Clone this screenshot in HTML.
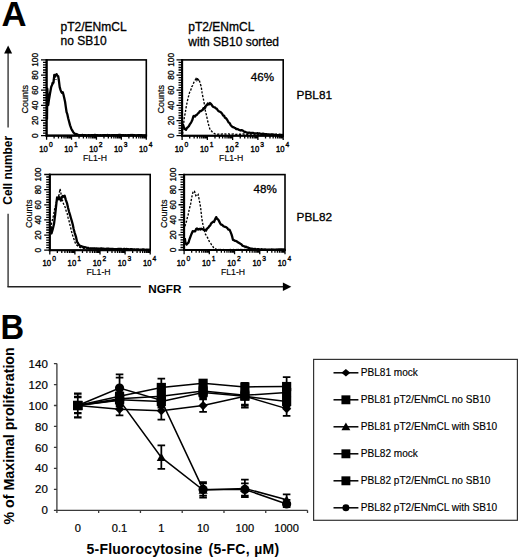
<!DOCTYPE html>
<html><head><meta charset="utf-8"><style>
html,body{margin:0;padding:0;background:#fff;}
svg{display:block;}
text{font-family:"Liberation Sans", sans-serif;fill:#000;}
</style></head><body>
<svg width="520" height="560" viewBox="0 0 520 560">
<rect width="520" height="560" fill="#fff"/>
<rect x="46.6" y="59.9" width="99.7" height="75.7" fill="none" stroke="#000" stroke-width="1.6"/>
<line x1="46.6" y1="59.1" x2="46.6" y2="136.6" stroke="#000" stroke-width="2.1"/>
<line x1="45.6" y1="135.6" x2="147.1" y2="135.6" stroke="#000" stroke-width="2.1"/>
<path d="M46.6 135.6h-5.6 M46.6 133.08h-3.6 M46.6 130.55h-3.6 M46.6 128.03h-3.6 M46.6 125.51h-3.6 M46.6 122.98h-3.6 M46.6 120.46h-5.6 M46.6 117.94h-3.6 M46.6 115.41h-3.6 M46.6 112.89h-3.6 M46.6 110.37h-3.6 M46.6 107.84h-3.6 M46.6 105.32h-5.6 M46.6 102.8h-3.6 M46.6 100.27h-3.6 M46.6 97.75h-3.6 M46.6 95.23h-3.6 M46.6 92.7h-3.6 M46.6 90.18h-5.6 M46.6 87.66h-3.6 M46.6 85.13h-3.6 M46.6 82.61h-3.6 M46.6 80.09h-3.6 M46.6 77.56h-3.6 M46.6 75.04h-5.6 M46.6 72.52h-3.6 M46.6 69.99h-3.6 M46.6 67.47h-3.6 M46.6 64.95h-3.6 M46.6 62.42h-3.6 M46.6 59.9h-5.6 M46.6 135.6v4.2 M54.1 135.6v2.8 M58.49 135.6v2.8 M61.61 135.6v2.8 M64.02 135.6v2.8 M66 135.6v2.8 M67.66 135.6v2.8 M69.11 135.6v2.8 M70.38 135.6v2.8 M71.53 135.6v4.2 M79.03 135.6v2.8 M83.42 135.6v2.8 M86.53 135.6v2.8 M88.95 135.6v2.8 M90.92 135.6v2.8 M92.59 135.6v2.8 M94.03 135.6v2.8 M95.31 135.6v2.8 M96.45 135.6v4.2 M103.95 135.6v2.8 M108.34 135.6v2.8 M111.46 135.6v2.8 M113.87 135.6v2.8 M115.85 135.6v2.8 M117.51 135.6v2.8 M118.96 135.6v2.8 M120.23 135.6v2.8 M121.38 135.6v4.2 M128.88 135.6v2.8 M133.27 135.6v2.8 M136.38 135.6v2.8 M138.8 135.6v2.8 M140.77 135.6v2.8 M142.44 135.6v2.8 M143.88 135.6v2.8 M145.16 135.6v2.8 M146.3 135.6v4.2" stroke="#000" stroke-width="1.3" fill="none"/>
<text transform="translate(37.7,135.6) rotate(-90) scale(0.9,1)" text-anchor="middle" font-size="9.3" stroke="#000" stroke-width="0.3">0</text>
<text transform="translate(37.7,120.46) rotate(-90) scale(0.9,1)" text-anchor="middle" font-size="9.3" stroke="#000" stroke-width="0.3">20</text>
<text transform="translate(37.7,105.32) rotate(-90) scale(0.9,1)" text-anchor="middle" font-size="9.3" stroke="#000" stroke-width="0.3">40</text>
<text transform="translate(37.7,90.18) rotate(-90) scale(0.9,1)" text-anchor="middle" font-size="9.3" stroke="#000" stroke-width="0.3">60</text>
<text transform="translate(37.7,75.04) rotate(-90) scale(0.9,1)" text-anchor="middle" font-size="9.3" stroke="#000" stroke-width="0.3">80</text>
<text transform="translate(37.7,59.9) rotate(-90) scale(0.9,1)" text-anchor="middle" font-size="9.3" stroke="#000" stroke-width="0.3">100</text>
<text transform="translate(28.3,99.25) rotate(-90)" text-anchor="middle" font-size="9" stroke="#000" stroke-width="0.2">Counts</text>
<text transform="translate(46,151.5) scale(0.86,1)" text-anchor="middle" font-size="9" stroke="#000" stroke-width="0.4">10<tspan font-size="7.8" dy="-5" dx="1.3">0</tspan></text>
<text transform="translate(70.93,151.5) scale(0.86,1)" text-anchor="middle" font-size="9" stroke="#000" stroke-width="0.4">10<tspan font-size="7.8" dy="-5" dx="1.3">1</tspan></text>
<text transform="translate(95.85,151.5) scale(0.86,1)" text-anchor="middle" font-size="9" stroke="#000" stroke-width="0.4">10<tspan font-size="7.8" dy="-5" dx="1.3">2</tspan></text>
<text transform="translate(120.78,151.5) scale(0.86,1)" text-anchor="middle" font-size="9" stroke="#000" stroke-width="0.4">10<tspan font-size="7.8" dy="-5" dx="1.3">3</tspan></text>
<text transform="translate(145.7,151.5) scale(0.86,1)" text-anchor="middle" font-size="9" stroke="#000" stroke-width="0.4">10<tspan font-size="7.8" dy="-5" dx="1.3">4</tspan></text>
<text x="94.95" y="160.5" text-anchor="middle" font-size="8.7" stroke="#000" stroke-width="0.15">FL1-H</text>
<polyline points="53,84.36 54,76.11 55,74.54 56,80" fill="none" stroke="#000" stroke-width="1.35" stroke-dasharray="2.2,1.5"/>
<polyline points="47,119.43 47.3,88.7 48.2,105.06 48.9,100.04 50,93.44 51.2,87.02 51.97,85.15 52.73,82.61 53.5,82.55 54.3,74.9 55.07,75.73 55.83,74.95 56.6,74.17 57.4,75.86 58.2,76.28 58.9,80.53 59.7,87.15 60.5,89.93 61.27,91.83 62.03,92.91 62.8,92.21 63.55,94.98 64.3,98.17 65.07,101.78 65.83,107.17 66.6,112.23 67.4,114.46 68.2,118.2 69,121.33 70.1,125.37 71.2,128.41 72.23,130.45 73.27,132.16 74.3,133.31 75.22,134 76.14,133.96 77.06,134.33 77.98,134.92 78.9,135.25 79.79,135.04 80.69,135.32 81.58,135.07 82.48,135.01 83.37,135.11 84.27,135.44 85.16,135.18 86.06,135.41 86.95,135.41 87.85,135.33 88.74,135.05 89.64,135.32 90.53,135.27 91.43,135.1 92.32,135.16 93.21,135.16 94.11,135.18 95,134.96 95.9,135.08 96.79,135.11 97.69,135.19 98.58,135.3 99.48,135.29 100.37,135.16 101.27,135.36 102.16,135.31 103.06,135.08 103.95,135.21 104.85,135.23 105.74,135.14 106.63,135.42 107.53,134.96 108.42,135.42 109.32,135.13 110.21,135.3 111.11,135.4 112,135.15 112.9,135.11 113.79,135.21 114.69,135.06 115.58,135.36 116.48,135.04 117.37,135.12 118.27,135.22 119.16,134.95 120.05,134.97 120.95,135.12 121.84,135.19 122.74,135.08 123.63,135.2 124.53,135.35 125.42,135.23 126.32,135.38 127.21,135.36 128.11,135.13 129,135.09 129.9,135.29 130.79,135 131.69,135.19 132.58,135.01 133.47,135.1 134.37,135.17 135.26,135.37 136.16,135.37 137.05,135.27 137.95,135.16 138.84,135.12 139.74,135.15 140.63,135.24 141.53,135.05 142.42,135.27 143.32,135.43 144.21,135.33 145.11,135.45 146,135.2" fill="none" stroke="#000" stroke-width="2.3" stroke-linejoin="round"/>
<rect x="182.1" y="59.9" width="101.1" height="75.8" fill="none" stroke="#000" stroke-width="1.6"/>
<line x1="182.1" y1="59.1" x2="182.1" y2="136.7" stroke="#000" stroke-width="2.1"/>
<line x1="181.1" y1="135.7" x2="284" y2="135.7" stroke="#000" stroke-width="2.1"/>
<path d="M182.1 135.7h-5.6 M182.1 133.17h-3.6 M182.1 130.65h-3.6 M182.1 128.12h-3.6 M182.1 125.59h-3.6 M182.1 123.07h-3.6 M182.1 120.54h-5.6 M182.1 118.01h-3.6 M182.1 115.49h-3.6 M182.1 112.96h-3.6 M182.1 110.43h-3.6 M182.1 107.91h-3.6 M182.1 105.38h-5.6 M182.1 102.85h-3.6 M182.1 100.33h-3.6 M182.1 97.8h-3.6 M182.1 95.27h-3.6 M182.1 92.75h-3.6 M182.1 90.22h-5.6 M182.1 87.69h-3.6 M182.1 85.17h-3.6 M182.1 82.64h-3.6 M182.1 80.11h-3.6 M182.1 77.59h-3.6 M182.1 75.06h-5.6 M182.1 72.53h-3.6 M182.1 70.01h-3.6 M182.1 67.48h-3.6 M182.1 64.95h-3.6 M182.1 62.43h-3.6 M182.1 59.9h-5.6 M182.1 135.7v4.2 M189.71 135.7v2.8 M194.16 135.7v2.8 M197.32 135.7v2.8 M199.77 135.7v2.8 M201.77 135.7v2.8 M203.46 135.7v2.8 M204.93 135.7v2.8 M206.22 135.7v2.8 M207.38 135.7v4.2 M214.98 135.7v2.8 M219.43 135.7v2.8 M222.59 135.7v2.8 M225.04 135.7v2.8 M227.04 135.7v2.8 M228.73 135.7v2.8 M230.2 135.7v2.8 M231.49 135.7v2.8 M232.65 135.7v4.2 M240.26 135.7v2.8 M244.71 135.7v2.8 M247.87 135.7v2.8 M250.32 135.7v2.8 M252.32 135.7v2.8 M254.01 135.7v2.8 M255.48 135.7v2.8 M256.77 135.7v2.8 M257.92 135.7v4.2 M265.53 135.7v2.8 M269.98 135.7v2.8 M273.14 135.7v2.8 M275.59 135.7v2.8 M277.59 135.7v2.8 M279.28 135.7v2.8 M280.75 135.7v2.8 M282.04 135.7v2.8 M283.2 135.7v4.2" stroke="#000" stroke-width="1.3" fill="none"/>
<text transform="translate(173.8,135.7) rotate(-90) scale(0.9,1)" text-anchor="middle" font-size="9.3" stroke="#000" stroke-width="0.3">0</text>
<text transform="translate(173.8,120.54) rotate(-90) scale(0.9,1)" text-anchor="middle" font-size="9.3" stroke="#000" stroke-width="0.3">20</text>
<text transform="translate(173.8,105.38) rotate(-90) scale(0.9,1)" text-anchor="middle" font-size="9.3" stroke="#000" stroke-width="0.3">40</text>
<text transform="translate(173.8,90.22) rotate(-90) scale(0.9,1)" text-anchor="middle" font-size="9.3" stroke="#000" stroke-width="0.3">60</text>
<text transform="translate(173.8,75.06) rotate(-90) scale(0.9,1)" text-anchor="middle" font-size="9.3" stroke="#000" stroke-width="0.3">80</text>
<text transform="translate(173.8,59.9) rotate(-90) scale(0.9,1)" text-anchor="middle" font-size="9.3" stroke="#000" stroke-width="0.3">100</text>
<text transform="translate(164.2,99.3) rotate(-90)" text-anchor="middle" font-size="9" stroke="#000" stroke-width="0.2">Counts</text>
<text transform="translate(181.5,151.6) scale(0.86,1)" text-anchor="middle" font-size="9" stroke="#000" stroke-width="0.4">10<tspan font-size="7.8" dy="-5" dx="1.3">0</tspan></text>
<text transform="translate(206.78,151.6) scale(0.86,1)" text-anchor="middle" font-size="9" stroke="#000" stroke-width="0.4">10<tspan font-size="7.8" dy="-5" dx="1.3">1</tspan></text>
<text transform="translate(232.05,151.6) scale(0.86,1)" text-anchor="middle" font-size="9" stroke="#000" stroke-width="0.4">10<tspan font-size="7.8" dy="-5" dx="1.3">2</tspan></text>
<text transform="translate(257.32,151.6) scale(0.86,1)" text-anchor="middle" font-size="9" stroke="#000" stroke-width="0.4">10<tspan font-size="7.8" dy="-5" dx="1.3">3</tspan></text>
<text transform="translate(282.6,151.6) scale(0.86,1)" text-anchor="middle" font-size="9" stroke="#000" stroke-width="0.4">10<tspan font-size="7.8" dy="-5" dx="1.3">4</tspan></text>
<text x="231.15" y="160.6" text-anchor="middle" font-size="8.7" stroke="#000" stroke-width="0.15">FL1-H</text>
<polyline points="182.6,133.97 183.5,124.97 184.3,117.37 185.2,113.32 186.1,107.51 187,102.97 188,98.27 189,94.57 190,91 190.85,89.97 191.7,86.74 192.55,85.65 193.4,83.45 194.27,81.37 195.13,80.15 196,78.64 196.75,80.11 197.5,77.73 198.25,80 199,79.2 200.3,83.87 201.15,86.27 202,92.14 202.77,96.32 203.53,99.63 204.3,103.91 205.5,111.51 206.27,114.43 207.03,117.95 207.8,121.53 208.9,125.93 210.2,130.1 210.95,130.65 211.7,131.18 212.45,132.2 213.2,132.76 214.13,133.34 215.07,133.78 216,134.15 216.91,134.02 217.81,134.22 218.72,134.09 219.62,133.89 220.53,134.26 221.43,134.2 222.34,133.97 223.24,134.16 224.15,133.89 225.05,134.02 225.96,134.18 226.86,134.17 227.77,133.86 228.68,133.9 229.58,134.2 230.49,133.93 231.39,133.95 232.3,134.11 233.2,134.02 234.11,134.37 235.01,134.37 235.92,134.34 236.82,134.28 237.73,134.11 238.64,134.02 239.54,134.23 240.45,134.23 241.35,134.31 242.26,134.35 243.16,133.99 244.07,134.03 244.97,134.07 245.88,134.33 246.78,134.31 247.69,134.26 248.59,134.25 249.5,134.43 250.41,134.01 251.31,134.04 252.22,134.42 253.12,134.12 254.03,134.04 254.93,134.33 255.84,134.18 256.74,134.55 257.65,134.08 258.55,134.16 259.46,134.28 260.36,134.38 261.27,134.12 262.18,134.4 263.08,134.13 263.99,134.5 264.89,134.5 265.8,134.26 266.7,134.35 267.61,134.4 268.51,134.48 269.42,134.26 270.32,134.24 271.23,134.52 272.14,134.49 273.04,134.32 273.95,134.43 274.85,134.66 275.76,134.64 276.66,134.25 277.57,134.3 278.47,134.38 279.38,134.28 280.28,134.29 281.19,134.3 282.09,134.48 283,134.5" fill="none" stroke="#000" stroke-width="1.35" stroke-dasharray="2.2,1.5"/>
<polyline points="182.6,123.76 183.3,125.59 184,127.63 185,129.06 186,129.77 187,127.9 188,127.07 189,125.89 189.82,124.2 190.65,123.28 191.48,121.75 192.3,120.07 193.4,116.3 194.28,115.81 195.15,116.53 196.03,115.07 196.9,114.93 197.95,113.41 199,112.64 199.9,111.09 200.8,111.22 201.7,110.32 202.6,110.11 203.45,108.12 204.3,108.48 205.15,107.89 206,105.62 206.9,105.17 207.8,103.52 208.9,104.52 210,103.06 210.96,103.86 211.92,105.24 212.88,106.61 213.84,107.05 214.8,107.36 215.72,108.31 216.64,108.56 217.56,109.98 218.48,111.11 219.4,111.5 220.32,111.95 221.24,112.69 222.16,113.81 223.08,115.55 224,115.56 224.92,117.73 225.84,118.12 226.76,119.16 227.68,120.8 228.6,122.52 229.57,122.96 230.55,124.87 231.53,126.1 232.5,127 233.45,127.09 234.4,127.75 235.35,128.17 236.3,129.04 237.19,128.98 238.07,129.24 238.96,129.93 239.84,130.22 240.73,130.48 241.61,130.19 242.5,130.34 243.45,131.06 244.4,131.94 245.35,131.92 246.3,132.29 247.2,132.57 248.1,132.85 249,132.6 249.9,132.69 250.8,133.07 251.7,132.95 252.57,132.96 253.44,132.94 254.31,133.3 255.19,133.47 256.06,133.31 256.93,133.4 257.8,133.17 258.66,133.72 259.51,133.34 260.37,133.76 261.22,133.99 262.08,133.83 262.93,133.72 263.79,133.92 264.64,134.3 265.5,134.23 266.42,134.14 267.34,134.42 268.26,134.51 269.18,134.61 270.11,134.54 271.03,134.43 271.95,134.45 272.87,134.72 273.79,134.5 274.71,134.95 275.63,134.59 276.55,135.07 277.47,135.04 278.39,135.19 279.32,135.25 280.24,135.32 281.16,134.97 282.08,135.14 283,135.3" fill="none" stroke="#000" stroke-width="2.3" stroke-linejoin="round"/>
<text x="250.8" y="80.6" font-size="11.6" stroke="#000" stroke-width="0.3">46%</text>
<rect x="49.8" y="174.5" width="100.4" height="75.7" fill="none" stroke="#000" stroke-width="1.6"/>
<line x1="49.8" y1="173.7" x2="49.8" y2="251.2" stroke="#000" stroke-width="2.1"/>
<line x1="48.8" y1="250.2" x2="151" y2="250.2" stroke="#000" stroke-width="2.1"/>
<path d="M49.8 250.2h-5.6 M49.8 247.68h-3.6 M49.8 245.15h-3.6 M49.8 242.63h-3.6 M49.8 240.11h-3.6 M49.8 237.58h-3.6 M49.8 235.06h-5.6 M49.8 232.54h-3.6 M49.8 230.01h-3.6 M49.8 227.49h-3.6 M49.8 224.97h-3.6 M49.8 222.44h-3.6 M49.8 219.92h-5.6 M49.8 217.4h-3.6 M49.8 214.87h-3.6 M49.8 212.35h-3.6 M49.8 209.83h-3.6 M49.8 207.3h-3.6 M49.8 204.78h-5.6 M49.8 202.26h-3.6 M49.8 199.73h-3.6 M49.8 197.21h-3.6 M49.8 194.69h-3.6 M49.8 192.16h-3.6 M49.8 189.64h-5.6 M49.8 187.12h-3.6 M49.8 184.59h-3.6 M49.8 182.07h-3.6 M49.8 179.55h-3.6 M49.8 177.02h-3.6 M49.8 174.5h-5.6 M49.8 250.2v4.2 M57.36 250.2v2.8 M61.78 250.2v2.8 M64.91 250.2v2.8 M67.34 250.2v2.8 M69.33 250.2v2.8 M71.01 250.2v2.8 M72.47 250.2v2.8 M73.75 250.2v2.8 M74.9 250.2v4.2 M82.46 250.2v2.8 M86.88 250.2v2.8 M90.01 250.2v2.8 M92.44 250.2v2.8 M94.43 250.2v2.8 M96.11 250.2v2.8 M97.57 250.2v2.8 M98.85 250.2v2.8 M100 250.2v4.2 M107.56 250.2v2.8 M111.98 250.2v2.8 M115.11 250.2v2.8 M117.54 250.2v2.8 M119.53 250.2v2.8 M121.21 250.2v2.8 M122.67 250.2v2.8 M123.95 250.2v2.8 M125.1 250.2v4.2 M132.66 250.2v2.8 M137.08 250.2v2.8 M140.21 250.2v2.8 M142.64 250.2v2.8 M144.63 250.2v2.8 M146.31 250.2v2.8 M147.77 250.2v2.8 M149.05 250.2v2.8 M150.2 250.2v4.2" stroke="#000" stroke-width="1.3" fill="none"/>
<text transform="translate(40.9,250.2) rotate(-90) scale(0.9,1)" text-anchor="middle" font-size="9.3" stroke="#000" stroke-width="0.3">0</text>
<text transform="translate(40.9,235.06) rotate(-90) scale(0.9,1)" text-anchor="middle" font-size="9.3" stroke="#000" stroke-width="0.3">20</text>
<text transform="translate(40.9,219.92) rotate(-90) scale(0.9,1)" text-anchor="middle" font-size="9.3" stroke="#000" stroke-width="0.3">40</text>
<text transform="translate(40.9,204.78) rotate(-90) scale(0.9,1)" text-anchor="middle" font-size="9.3" stroke="#000" stroke-width="0.3">60</text>
<text transform="translate(40.9,189.64) rotate(-90) scale(0.9,1)" text-anchor="middle" font-size="9.3" stroke="#000" stroke-width="0.3">80</text>
<text transform="translate(40.9,174.5) rotate(-90) scale(0.9,1)" text-anchor="middle" font-size="9.3" stroke="#000" stroke-width="0.3">100</text>
<text transform="translate(31.5,213.85) rotate(-90)" text-anchor="middle" font-size="9" stroke="#000" stroke-width="0.2">Counts</text>
<text transform="translate(49.2,266.1) scale(0.86,1)" text-anchor="middle" font-size="9" stroke="#000" stroke-width="0.4">10<tspan font-size="7.8" dy="-5" dx="1.3">0</tspan></text>
<text transform="translate(74.3,266.1) scale(0.86,1)" text-anchor="middle" font-size="9" stroke="#000" stroke-width="0.4">10<tspan font-size="7.8" dy="-5" dx="1.3">1</tspan></text>
<text transform="translate(99.4,266.1) scale(0.86,1)" text-anchor="middle" font-size="9" stroke="#000" stroke-width="0.4">10<tspan font-size="7.8" dy="-5" dx="1.3">2</tspan></text>
<text transform="translate(124.5,266.1) scale(0.86,1)" text-anchor="middle" font-size="9" stroke="#000" stroke-width="0.4">10<tspan font-size="7.8" dy="-5" dx="1.3">3</tspan></text>
<text transform="translate(149.6,266.1) scale(0.86,1)" text-anchor="middle" font-size="9" stroke="#000" stroke-width="0.4">10<tspan font-size="7.8" dy="-5" dx="1.3">4</tspan></text>
<text x="98.5" y="275.1" text-anchor="middle" font-size="8.7" stroke="#000" stroke-width="0.15">FL1-H</text>
<polyline points="50.8,228.44 51.5,223.67 52.45,219.58 53.4,215.98 54.33,210.46 55.25,206.7 56.17,202.81 57.1,199.93 58.05,196.97 59,195.07 60,188.89 60.9,192.39 61.5,199.97 62.45,200.26 63.4,203.6 64.33,205.55 65.25,207.4 66.17,211.11 67.1,212.8 68.05,217.7 69,220.8 69.95,224.8 70.9,228.7 72.1,233.78 73.05,236.78 74,239.24 74.95,242.07 75.9,244.63 76.93,245.24 77.97,246.12 79,246.81 79.83,247.45 80.67,247.5 81.5,247.75 82.33,248.06 83.17,248.25 84,248.43 84.9,248.3 85.81,248.53 86.71,248.39 87.62,248.51 88.52,248.57 89.42,248.37 90.33,248.41 91.23,248.56 92.14,248.55 93.04,248.89 93.95,248.64 94.85,248.48 95.75,248.93 96.66,248.52 97.56,248.97 98.47,248.94 99.37,248.79 100.27,248.71 101.18,248.84 102.08,248.94 102.99,248.64 103.89,249.1 104.79,248.75 105.7,248.73 106.6,249.12 107.51,248.94 108.41,248.91 109.32,249.11 110.22,249.19 111.12,249.02 112.03,248.88 112.93,248.9 113.84,249.29 114.74,249.3 115.64,249.03 116.55,249.13 117.45,249.27 118.36,249.06 119.26,249.16 120.16,249.17 121.07,249.1 121.97,249.4 122.88,249.36 123.78,249.2 124.68,249.45 125.59,249.21 126.49,249.35 127.4,249.59 128.3,249.24 129.21,249.53 130.11,249.44 131.01,249.25 131.92,249.58 132.82,249.29 133.73,249.44 134.63,249.43 135.53,249.41 136.44,249.55 137.34,249.63 138.25,249.41 139.15,249.43 140.05,249.45 140.96,249.56 141.86,249.88 142.77,249.48 143.67,249.58 144.58,249.93 145.48,249.89 146.38,249.59 147.29,249.77 148.19,249.6 149.1,249.73 150,249.8" fill="none" stroke="#000" stroke-width="1.35" stroke-dasharray="2.2,1.5"/>
<polyline points="50.6,226.51 51.5,233.47 52.75,229.15 54,224.06 55.25,213.94 56.5,202.29 57.1,197.48 58.05,199.36 59,196.96 59.95,198.94 60.9,200.56 61.83,197.39 62.75,195.91 63.67,196.74 64.6,195.62 65.9,200.09 67.1,203.41 68.05,207.73 69,211.6 69.95,214.61 70.9,217.96 71.83,221.16 72.75,224.53 73.67,228.91 74.6,232.58 75.9,236.55 77.1,242.1 77.93,243.1 78.77,244.67 79.6,245.5 80.55,246.25 81.5,246.12 82.45,246.8 83.4,246.87 84.33,247.31 85.27,247.21 86.2,247.54 87.13,247.86 88.07,247.86 89,248.29 89.91,248.5 90.83,248.39 91.74,248.47 92.65,248.38 93.57,248.45 94.48,248.28 95.39,248.58 96.3,248.37 97.22,248.55 98.13,248.51 99.04,248.66 99.96,248.59 100.87,248.52 101.78,248.46 102.7,248.55 103.61,248.65 104.52,248.91 105.43,248.93 106.35,248.76 107.26,248.71 108.17,248.61 109.09,248.71 110,248.78 110.91,248.9 111.82,248.83 112.73,248.82 113.64,249.11 114.55,249.06 115.45,249.17 116.36,249.04 117.27,249.18 118.18,248.96 119.09,248.98 120,248.8 120.91,248.87 121.82,249.18 122.73,249.27 123.64,248.99 124.55,248.92 125.45,249.26 126.36,248.99 127.27,249.21 128.18,249.13 129.09,249.3 130,249.55 130.91,249.09 131.82,249.15 132.73,249.34 133.64,249.58 134.55,249.45 135.45,249.56 136.36,249.39 137.27,249.47 138.18,249.44 139.09,249.62 140,249.79 140.91,249.65 141.82,249.69 142.73,249.39 143.64,249.48 144.55,249.67 145.45,249.88 146.36,249.66 147.27,249.6 148.18,249.95 149.09,249.62 150,249.8" fill="none" stroke="#000" stroke-width="2.3" stroke-linejoin="round"/>
<rect x="184.1" y="174.6" width="100.9" height="75.4" fill="none" stroke="#000" stroke-width="1.6"/>
<line x1="184.1" y1="173.8" x2="184.1" y2="251" stroke="#000" stroke-width="2.1"/>
<line x1="183.1" y1="250" x2="285.8" y2="250" stroke="#000" stroke-width="2.1"/>
<path d="M184.1 250h-5.6 M184.1 247.49h-3.6 M184.1 244.97h-3.6 M184.1 242.46h-3.6 M184.1 239.95h-3.6 M184.1 237.43h-3.6 M184.1 234.92h-5.6 M184.1 232.41h-3.6 M184.1 229.89h-3.6 M184.1 227.38h-3.6 M184.1 224.87h-3.6 M184.1 222.35h-3.6 M184.1 219.84h-5.6 M184.1 217.33h-3.6 M184.1 214.81h-3.6 M184.1 212.3h-3.6 M184.1 209.79h-3.6 M184.1 207.27h-3.6 M184.1 204.76h-5.6 M184.1 202.25h-3.6 M184.1 199.73h-3.6 M184.1 197.22h-3.6 M184.1 194.71h-3.6 M184.1 192.19h-3.6 M184.1 189.68h-5.6 M184.1 187.17h-3.6 M184.1 184.65h-3.6 M184.1 182.14h-3.6 M184.1 179.63h-3.6 M184.1 177.11h-3.6 M184.1 174.6h-5.6 M184.1 250v4.2 M191.69 250v2.8 M196.14 250v2.8 M199.29 250v2.8 M201.73 250v2.8 M203.73 250v2.8 M205.42 250v2.8 M206.88 250v2.8 M208.17 250v2.8 M209.32 250v4.2 M216.92 250v2.8 M221.36 250v2.8 M224.51 250v2.8 M226.96 250v2.8 M228.95 250v2.8 M230.64 250v2.8 M232.11 250v2.8 M233.4 250v2.8 M234.55 250v4.2 M242.14 250v2.8 M246.59 250v2.8 M249.74 250v2.8 M252.18 250v2.8 M254.18 250v2.8 M255.87 250v2.8 M257.33 250v2.8 M258.62 250v2.8 M259.77 250v4.2 M267.37 250v2.8 M271.81 250v2.8 M274.96 250v2.8 M277.41 250v2.8 M279.4 250v2.8 M281.09 250v2.8 M282.56 250v2.8 M283.85 250v2.8 M285 250v4.2" stroke="#000" stroke-width="1.3" fill="none"/>
<text transform="translate(175.8,250) rotate(-90) scale(0.9,1)" text-anchor="middle" font-size="9.3" stroke="#000" stroke-width="0.3">0</text>
<text transform="translate(175.8,234.92) rotate(-90) scale(0.9,1)" text-anchor="middle" font-size="9.3" stroke="#000" stroke-width="0.3">20</text>
<text transform="translate(175.8,219.84) rotate(-90) scale(0.9,1)" text-anchor="middle" font-size="9.3" stroke="#000" stroke-width="0.3">40</text>
<text transform="translate(175.8,204.76) rotate(-90) scale(0.9,1)" text-anchor="middle" font-size="9.3" stroke="#000" stroke-width="0.3">60</text>
<text transform="translate(175.8,189.68) rotate(-90) scale(0.9,1)" text-anchor="middle" font-size="9.3" stroke="#000" stroke-width="0.3">80</text>
<text transform="translate(175.8,174.6) rotate(-90) scale(0.9,1)" text-anchor="middle" font-size="9.3" stroke="#000" stroke-width="0.3">100</text>
<text transform="translate(166.8,213.8) rotate(-90)" text-anchor="middle" font-size="9" stroke="#000" stroke-width="0.2">Counts</text>
<text transform="translate(183.5,265.9) scale(0.86,1)" text-anchor="middle" font-size="9" stroke="#000" stroke-width="0.4">10<tspan font-size="7.8" dy="-5" dx="1.3">0</tspan></text>
<text transform="translate(208.72,265.9) scale(0.86,1)" text-anchor="middle" font-size="9" stroke="#000" stroke-width="0.4">10<tspan font-size="7.8" dy="-5" dx="1.3">1</tspan></text>
<text transform="translate(233.95,265.9) scale(0.86,1)" text-anchor="middle" font-size="9" stroke="#000" stroke-width="0.4">10<tspan font-size="7.8" dy="-5" dx="1.3">2</tspan></text>
<text transform="translate(259.17,265.9) scale(0.86,1)" text-anchor="middle" font-size="9" stroke="#000" stroke-width="0.4">10<tspan font-size="7.8" dy="-5" dx="1.3">3</tspan></text>
<text transform="translate(284.4,265.9) scale(0.86,1)" text-anchor="middle" font-size="9" stroke="#000" stroke-width="0.4">10<tspan font-size="7.8" dy="-5" dx="1.3">4</tspan></text>
<text x="233.05" y="274.9" text-anchor="middle" font-size="8.7" stroke="#000" stroke-width="0.15">FL1-H</text>
<polyline points="184.8,226.18 185.7,223.94 186.6,220.77 187.43,217.23 188.27,214.24 189.1,210.19 189.9,206.75 190.7,203.64 191.5,198.63 192.4,194.33 193.3,191.04 194.5,191.3 195.8,195.62 196.6,195.06 197.4,195.91 198.2,194.69 199.4,200.82 200.6,207.4 201.8,218.45 203,224.96 203.95,228.79 204.9,233.13 205.7,234.71 206.5,235.69 207.3,237.18 208.1,238.77 208.9,240.6 209.7,242.49 210.62,243.26 211.55,244.83 212.47,245.73 213.4,247.4 214.3,247.61 215.2,248.55 216.1,249.15 217,249.57 217.89,249.55 218.79,249.35 219.68,249.73 220.58,249.45 221.47,249.75 222.37,249.81 223.26,249.55 224.16,249.84 225.05,249.69 225.95,249.74 226.84,249.64 227.74,249.58 228.63,249.61 229.53,249.68 230.42,249.4 231.32,249.82 232.21,249.46 233.11,249.44 234,249.58 234.89,249.64 235.79,249.44 236.68,249.4 237.58,249.72 238.47,249.36 239.37,249.69 240.26,249.44 241.16,249.75 242.05,249.51 242.95,249.79 243.84,249.54 244.74,249.4 245.63,249.54 246.53,249.38 247.42,249.66 248.32,249.76 249.21,249.5 250.11,249.45 251,249.67 251.89,249.83 252.79,249.79 253.68,249.66 254.58,249.5 255.47,249.8 256.37,249.7 257.26,249.85 258.16,249.56 259.05,249.39 259.95,249.77 260.84,249.74 261.74,249.39 262.63,249.66 263.53,249.35 264.42,249.7 265.32,249.81 266.21,249.53 267.11,249.56 268,249.77 268.89,249.47 269.79,249.75 270.68,249.59 271.58,249.46 272.47,249.78 273.37,249.42 274.26,249.81 275.16,249.73 276.05,249.4 276.95,249.43 277.84,249.6 278.74,249.66 279.63,249.52 280.53,249.67 281.42,249.54 282.32,249.6 283.21,249.78 284.11,249.49 285,249.6" fill="none" stroke="#000" stroke-width="1.35" stroke-dasharray="2.2,1.5"/>
<polyline points="184.8,238.1 185.5,243.04 186.6,244.5 187.55,243.44 188.5,242.64 189.4,239.55 190.3,237.08 191.5,233.95 192.7,231.21 193.53,231.37 194.37,231.25 195.2,231.28 196.1,229.06 197,228.51 197.9,229.65 198.8,229.1 199.6,228.89 200.4,229.5 201.2,228.61 202.03,229.12 202.87,229.23 203.7,229.88 204.5,229.68 205.3,229.94 206.1,230.64 206.9,228.88 207.7,227.94 208.5,227.48 209.33,225.99 210.17,225.61 211,223.62 212,222.71 213,221.68 214,222.01 215.1,219.29 216.2,217.1 217.2,218.94 218.2,219.55 219.2,221.37 220.23,223.45 221.27,224.64 222.3,224.97 223.28,226.12 224.25,226.57 225.22,226.82 226.2,227.36 227.2,227.93 228.2,229.5 229.2,229.54 229.97,230.56 230.73,232.43 231.5,234.41 232.25,236.93 233,239.97 233.97,240.2 234.95,240.92 235.93,240.92 236.9,241.51 237.88,242.21 238.85,242.93 239.83,243.29 240.8,244.1 241.57,244.53 242.33,245.58 243.1,245.89 244.07,246.22 245.05,246.78 246.03,246.68 247,247.39 247.9,247.49 248.8,248.08 249.7,248.19 250.6,248.73 251.5,248.61 252.38,248.75 253.26,248.99 254.14,249.13 255.01,248.89 255.89,249.13 256.77,249.34 257.65,249.04 258.53,249.16 259.41,249.45 260.29,249.53 261.16,249.23 262.04,249.33 262.92,249.6 263.8,249.55 264.68,249.51 265.57,249.52 266.45,249.81 267.33,249.59 268.22,249.7 269.1,249.67 269.98,249.7 270.87,249.62 271.75,249.45 272.63,249.69 273.52,249.69 274.4,249.59 275.28,249.65 276.17,249.79 277.05,249.45 277.93,249.79 278.82,249.44 279.7,249.74 280.58,249.36 281.47,249.44 282.35,249.38 283.23,249.72 284.12,249.45 285,249.6" fill="none" stroke="#000" stroke-width="2.3" stroke-linejoin="round"/>
<text x="253.5" y="193.2" font-size="11.6" stroke="#000" stroke-width="0.3">48%</text>
<text x="1.4" y="25.9" font-size="34.7" font-weight="bold">A</text>
<g stroke="#000" stroke-width="0.3">
<text x="60.6" y="31.2" font-size="12">pT2/ENmCL</text>
<text x="60.6" y="45.3" font-size="12">no SB10</text>
<text x="188.3" y="30.6" font-size="12">pT2/ENmCL</text>
<text x="188.3" y="45.9" font-size="12">with SB10 sorted</text>
</g>
<text x="296.6" y="99.2" font-size="11.8" stroke="#000" stroke-width="0.3">PBL81</text>
<text x="296.6" y="220.7" font-size="11.8" stroke="#000" stroke-width="0.3">PBL82</text>
<path d="M8.1 53 V127.5 M8.1 213.8 V286.7" stroke="#444" stroke-width="1.5" fill="none"/>
<path d="M7.4 286.75 H140.8 M189.2 286.75 H284" stroke="#222" stroke-width="1.5" fill="none"/>
<path d="M4.1 53.6 L8.1 45.6 L12.1 53.6 Z" fill="#000"/>
<path d="M282.9 282.5 L291.3 286.7 L282.9 290.9 Z" fill="#000"/>
<text transform="translate(12.3,170.3) rotate(-90)" text-anchor="middle" font-size="11.9" font-weight="bold">Cell number</text>
<text x="148.3" y="293.1" font-size="11.7" font-weight="bold">NGFR</text>
<text transform="translate(0.5,338.8) scale(0.94,1)" font-size="34.8" font-weight="bold">B</text>
<path d="M56.9 363.58 V510.3 H307.52 M56.9 510.3 h-3 M56.9 489.34 h-3 M56.9 468.38 h-3 M56.9 447.42 h-3 M56.9 426.46 h-3 M56.9 405.5 h-3 M56.9 384.54 h-3 M56.9 363.58 h-3 M56.9 510.3 v2.8 M98.67 510.3 v2.8 M140.44 510.3 v2.8 M182.21 510.3 v2.8 M223.98 510.3 v2.8 M265.75 510.3 v2.8 M307.52 510.3 v2.8" stroke="#3a3a3a" stroke-width="1.3" fill="none"/>
<text x="47.8" y="514.4" text-anchor="end" font-size="11.5" stroke="#000" stroke-width="0.2">0</text>
<text x="47.8" y="493.44" text-anchor="end" font-size="11.5" stroke="#000" stroke-width="0.2">20</text>
<text x="47.8" y="472.48" text-anchor="end" font-size="11.5" stroke="#000" stroke-width="0.2">40</text>
<text x="47.8" y="451.52" text-anchor="end" font-size="11.5" stroke="#000" stroke-width="0.2">60</text>
<text x="47.8" y="430.56" text-anchor="end" font-size="11.5" stroke="#000" stroke-width="0.2">80</text>
<text x="47.8" y="409.6" text-anchor="end" font-size="11.5" stroke="#000" stroke-width="0.2">100</text>
<text x="47.8" y="388.64" text-anchor="end" font-size="11.5" stroke="#000" stroke-width="0.2">120</text>
<text x="47.8" y="367.68" text-anchor="end" font-size="11.5" stroke="#000" stroke-width="0.2">140</text>
<text x="77.78" y="531.6" text-anchor="middle" font-size="11.1" stroke="#000" stroke-width="0.2">0</text>
<text x="119.56" y="531.6" text-anchor="middle" font-size="11.1" stroke="#000" stroke-width="0.2">0.1</text>
<text x="161.33" y="531.6" text-anchor="middle" font-size="11.1" stroke="#000" stroke-width="0.2">1</text>
<text x="203.1" y="531.6" text-anchor="middle" font-size="11.1" stroke="#000" stroke-width="0.2">10</text>
<text x="244.87" y="531.6" text-anchor="middle" font-size="11.1" stroke="#000" stroke-width="0.2">100</text>
<text x="286.63" y="531.6" text-anchor="middle" font-size="11.1" stroke="#000" stroke-width="0.2">1000</text>
<text x="86.6" y="554.4" font-size="14" font-weight="bold" letter-spacing="0.2">5-Fluorocytosine</text>
<text x="208.5" y="554.4" font-size="14" font-weight="bold" letter-spacing="0.3">(5-FC, µM)</text>
<text transform="translate(13.6,435.9) rotate(-90)" text-anchor="middle" font-size="14.25" font-weight="bold">% of Maximal proliferation</text>
<path d="M77.78 393.34 V417.55 M73.98 393.34 h7.6 M73.98 417.55 h7.6 M119.56 402.98 V415.35 M115.76 402.98 h7.6 M115.76 415.35 h7.6 M161.33 401.94 V419.54 M157.53 401.94 h7.6 M157.53 419.54 h7.6 M203.1 399.42 V411.79 M199.3 399.42 h7.6 M199.3 411.79 h7.6 M244.87 384.85 V407.7 M241.06 384.85 h7.6 M241.06 407.7 h7.6 M286.63 401.41 V415.88 M282.83 401.41 h7.6 M282.83 415.88 h7.6 M77.78 393.97 V417.03 M73.98 393.97 h7.6 M73.98 417.03 h7.6 M119.56 377.62 V404.56 M115.76 377.62 h7.6 M115.76 404.56 h7.6 M161.33 378.67 V396.28 M157.53 378.67 h7.6 M157.53 396.28 h7.6 M203.1 380.14 V386.43 M199.3 380.14 h7.6 M199.3 386.43 h7.6 M244.87 382.76 V391.14 M241.06 382.76 h7.6 M241.06 391.14 h7.6 M286.63 377.2 V395.86 M282.83 377.2 h7.6 M282.83 395.86 h7.6 M77.78 397.12 V413.05 M73.98 397.12 h7.6 M73.98 413.05 h7.6 M119.56 394.18 V406.55 M115.76 394.18 h7.6 M115.76 406.55 h7.6 M161.33 445.43 V468.8 M157.53 445.43 h7.6 M157.53 468.8 h7.6 M203.1 482.21 V497.72 M199.3 482.21 h7.6 M199.3 497.72 h7.6 M244.87 479.59 V497.2 M241.06 479.59 h7.6 M241.06 497.2 h7.6 M286.63 494.37 V504.96 M282.83 494.37 h7.6 M282.83 504.96 h7.6 M77.78 396.59 V413.36 M73.98 396.59 h7.6 M73.98 413.36 h7.6 M119.56 392.61 V404.98 M115.76 392.61 h7.6 M115.76 404.98 h7.6 M161.33 390.09 V402.46 M157.53 390.09 h7.6 M157.53 402.46 h7.6 M203.1 385.9 V396.17 M199.3 385.9 h7.6 M199.3 396.17 h7.6 M244.87 385.9 V404.56 M241.06 385.9 h7.6 M241.06 404.56 h7.6 M286.63 387.37 V397.64 M282.83 387.37 h7.6 M282.83 397.64 h7.6 M77.78 397.33 V417.03 M73.98 397.33 h7.6 M73.98 417.03 h7.6 M119.56 393.66 V406.02 M115.76 393.66 h7.6 M115.76 406.02 h7.6 M161.33 395.23 V407.6 M157.53 395.23 h7.6 M157.53 407.6 h7.6 M203.1 387.47 V397.74 M199.3 387.47 h7.6 M199.3 397.74 h7.6 M244.87 386.95 V405.6 M241.06 386.95 h7.6 M241.06 405.6 h7.6 M286.63 396.28 V406.55 M282.83 396.28 h7.6 M282.83 406.55 h7.6 M77.78 393.76 V412.84 M73.98 393.76 h7.6 M73.98 412.84 h7.6 M119.56 374.48 V396.28 M115.76 374.48 h7.6 M115.76 396.28 h7.6 M161.33 394.18 V406.55 M157.53 394.18 h7.6 M157.53 406.55 h7.6 M203.1 483.26 V495.63 M199.3 483.26 h7.6 M199.3 495.63 h7.6 M244.87 483.26 V495.63 M241.06 483.26 h7.6 M241.06 495.63 h7.6 M286.63 499.82 V507.16 M282.83 499.82 h7.6 M282.83 507.16 h7.6" stroke="#000" stroke-width="1.75" fill="none"/>
<polyline points="77.78,405.5 119.56,409.17 161.33,410.74 203.1,405.6 244.87,396.28 286.63,408.64" fill="none" stroke="#000" stroke-width="1.5"/>
<polyline points="77.78,405.5 119.56,396.28 161.33,387.47 203.1,383.28 244.87,386.95 286.63,386.53" fill="none" stroke="#000" stroke-width="1.5"/>
<polyline points="77.78,405.5 119.56,400.36 161.33,457.38 203.1,489.97 244.87,488.4 286.63,499.82" fill="none" stroke="#000" stroke-width="1.5"/>
<polyline points="77.78,405.5 119.56,398.79 161.33,396.28 203.1,391.04 244.87,395.23 286.63,392.5" fill="none" stroke="#000" stroke-width="1.5"/>
<polyline points="77.78,405.5 119.56,399.84 161.33,401.41 203.1,392.61 244.87,396.28 286.63,401.41" fill="none" stroke="#000" stroke-width="1.5"/>
<polyline points="77.78,405.5 119.56,388 161.33,400.36 203.1,489.44 244.87,489.44 286.63,504.01" fill="none" stroke="#000" stroke-width="1.5"/>
<g fill="#000">
<path d="M73.19 405.5 L77.78 400.9 L82.38 405.5 L77.78 410.1 Z"/>
<path d="M114.96 409.17 L119.56 404.57 L124.16 409.17 L119.56 413.77 Z"/>
<path d="M156.73 410.74 L161.33 406.14 L165.93 410.74 L161.33 415.34 Z"/>
<path d="M198.5 405.6 L203.1 401 L207.7 405.6 L203.1 410.2 Z"/>
<path d="M240.27 396.28 L244.87 391.68 L249.47 396.28 L244.87 400.88 Z"/>
<path d="M282.03 408.64 L286.63 404.04 L291.24 408.64 L286.63 413.24 Z"/>
<rect x="73.19" y="400.9" width="9.2" height="9.2"/>
<rect x="114.96" y="391.68" width="9.2" height="9.2"/>
<rect x="156.73" y="382.87" width="9.2" height="9.2"/>
<rect x="198.5" y="378.68" width="9.2" height="9.2"/>
<rect x="240.27" y="382.35" width="9.2" height="9.2"/>
<rect x="282.03" y="381.93" width="9.2" height="9.2"/>
<path d="M73.19 409.18 L77.78 401.13 L82.38 409.18 Z"/>
<path d="M114.96 404.04 L119.56 395.99 L124.16 404.04 Z"/>
<path d="M156.73 461.06 L161.33 453.01 L165.93 461.06 Z"/>
<path d="M198.5 493.65 L203.1 485.6 L207.7 493.65 Z"/>
<path d="M240.27 492.08 L244.87 484.03 L249.47 492.08 Z"/>
<path d="M282.03 503.5 L286.63 495.45 L291.24 503.5 Z"/>
<rect x="73.19" y="400.9" width="9.2" height="9.2"/>
<rect x="114.96" y="394.19" width="9.2" height="9.2"/>
<rect x="156.73" y="391.68" width="9.2" height="9.2"/>
<rect x="198.5" y="386.44" width="9.2" height="9.2"/>
<rect x="240.27" y="390.63" width="9.2" height="9.2"/>
<rect x="282.03" y="387.9" width="9.2" height="9.2"/>
<rect x="73.19" y="400.9" width="9.2" height="9.2"/>
<rect x="114.96" y="395.24" width="9.2" height="9.2"/>
<rect x="156.73" y="396.81" width="9.2" height="9.2"/>
<rect x="198.5" y="388.01" width="9.2" height="9.2"/>
<rect x="240.27" y="391.68" width="9.2" height="9.2"/>
<rect x="282.03" y="396.81" width="9.2" height="9.2"/>
<circle cx="77.78" cy="405.5" r="4.6"/>
<circle cx="119.56" cy="388" r="4.6"/>
<circle cx="161.33" cy="400.36" r="4.6"/>
<circle cx="203.1" cy="489.44" r="4.6"/>
<circle cx="244.87" cy="489.44" r="4.6"/>
<circle cx="286.63" cy="504.01" r="4.6"/>
</g>
<rect x="313.6" y="359.4" width="203.8" height="160.9" fill="none" stroke="#333" stroke-width="1.2"/>
<line x1="333.5" y1="372.8" x2="358.4" y2="372.8" stroke="#000" stroke-width="1.5"/>
<g fill="#000"><path d="M341.44 372.8 L345.9 369.01 L350.36 372.8 L345.9 376.59 Z"/></g>
<text x="360.7" y="376.4" font-size="10.1" stroke="#000" stroke-width="0.15">PBL81 mock</text>
<line x1="333.5" y1="399.8" x2="358.4" y2="399.8" stroke="#000" stroke-width="1.5"/>
<g fill="#000"><rect x="341.44" y="395.34" width="8.92" height="8.92"/></g>
<text x="360.7" y="403.4" font-size="10.1" stroke="#000" stroke-width="0.15">PBL81 pT2/ENmCL no SB10</text>
<line x1="333.5" y1="426.8" x2="358.4" y2="426.8" stroke="#000" stroke-width="1.5"/>
<g fill="#000"><path d="M341.44 430.37 L345.9 422.56 L350.36 430.37 Z"/></g>
<text x="360.7" y="430.4" font-size="10.1" stroke="#000" stroke-width="0.15">PBL81 pT2/ENmCL with SB10</text>
<line x1="333.5" y1="453.8" x2="358.4" y2="453.8" stroke="#000" stroke-width="1.5"/>
<g fill="#000"><rect x="341.44" y="449.34" width="8.92" height="8.92"/></g>
<text x="360.7" y="457.4" font-size="10.1" stroke="#000" stroke-width="0.15">PBL82 mock</text>
<line x1="333.5" y1="480.8" x2="358.4" y2="480.8" stroke="#000" stroke-width="1.5"/>
<g fill="#000"><rect x="341.44" y="476.34" width="8.92" height="8.92"/></g>
<text x="360.7" y="484.4" font-size="10.1" stroke="#000" stroke-width="0.15">PBL82 pT2/ENmCL no SB10</text>
<line x1="333.5" y1="507.8" x2="358.4" y2="507.8" stroke="#000" stroke-width="1.5"/>
<g fill="#000"><circle cx="345.9" cy="507.8" r="3.45"/></g>
<text x="360.7" y="511.4" font-size="10.1" stroke="#000" stroke-width="0.15">PBL82 pT2/ENmCL with SB10</text>
</svg>
</body></html>
